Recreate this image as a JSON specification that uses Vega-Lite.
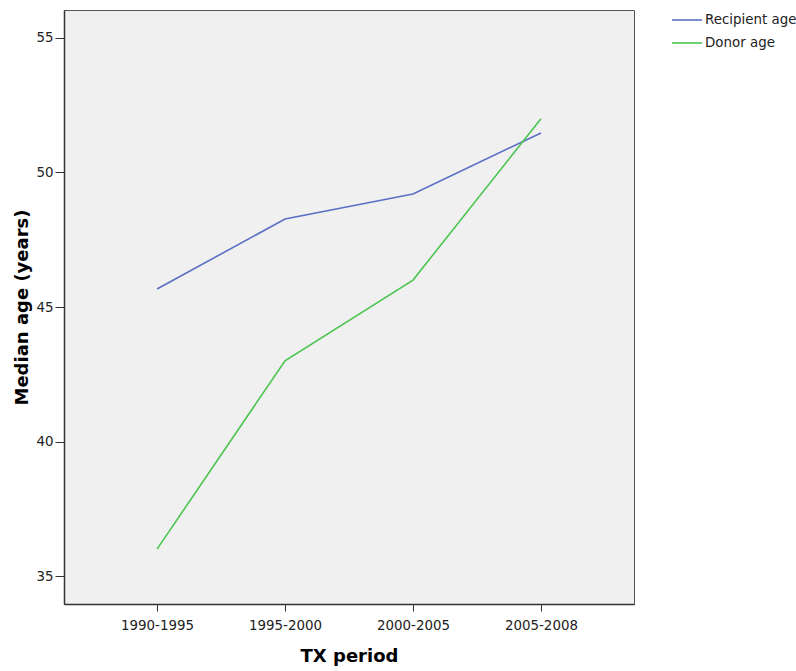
{
  "$schema": "https://vega.github.io/schema/vega-lite/v6.json",
  "width": 570,
  "height": 594,
  "autosize": {"type": "none"},
  "padding": {"left": 64, "top": 10, "right": 162, "bottom": 67},
  "background": "white",
  "config": {
    "font": "DejaVu Sans",
    "view": {"fill": "#f0f0f0", "stroke": "#555555", "strokeWidth": 1}
  },
  "data": {
    "values": [
      {"period": "1990-1995", "series": "Recipient age", "age": 45.67},
      {"period": "1995-2000", "series": "Recipient age", "age": 48.27},
      {"period": "2000-2005", "series": "Recipient age", "age": 49.2},
      {"period": "2005-2008", "series": "Recipient age", "age": 51.47},
      {"period": "1990-1995", "series": "Donor age", "age": 36.0},
      {"period": "1995-2000", "series": "Donor age", "age": 43.0},
      {"period": "2000-2005", "series": "Donor age", "age": 46.0},
      {"period": "2005-2008", "series": "Donor age", "age": 52.0}
    ]
  },
  "mark": {"type": "line", "strokeWidth": 1.6},
  "encoding": {
    "x": {
      "field": "period",
      "type": "ordinal",
      "scale": {"type": "point", "padding": 0.727},
      "axis": {
        "title": "TX period",
        "titleFontSize": 18,
        "titleFontWeight": "bold",
        "titleColor": "#000000",
        "titlePadding": 16,
        "labelAngle": 0,
        "labelFontSize": 13.4,
        "labelColor": "#222222",
        "labelPadding": 7,
        "tickSize": 7,
        "tickColor": "#333333",
        "domainColor": "#333333",
        "domainWidth": 1.5,
        "grid": false
      }
    },
    "y": {
      "field": "age",
      "type": "quantitative",
      "scale": {"domain": [33.96, 56.04], "nice": false, "zero": false},
      "axis": {
        "title": "Median age (years)",
        "titleFontSize": 18,
        "titleFontWeight": "bold",
        "titleColor": "#000000",
        "titlePadding": 4,
        "values": [35, 40, 45, 50, 55],
        "labelFontSize": 13.4,
        "labelColor": "#222222",
        "labelPadding": 2,
        "tickSize": 9,
        "tickColor": "#333333",
        "domainColor": "#333333",
        "domainWidth": 1.5,
        "grid": false
      }
    },
    "color": {
      "field": "series",
      "type": "nominal",
      "scale": {"domain": ["Recipient age", "Donor age"], "range": ["#5a6fc6", "#4cc450"]},
      "legend": {
        "title": null,
        "orient": "none",
        "legendX": 607,
        "legendY": -6,
        "symbolType": "stroke",
        "symbolSize": 900,
        "symbolStrokeWidth": 1.6,
        "labelFontSize": 13.4,
        "labelColor": "#222222",
        "rowPadding": -2,
        "labelOffset": 2
      }
    }
  }
}
